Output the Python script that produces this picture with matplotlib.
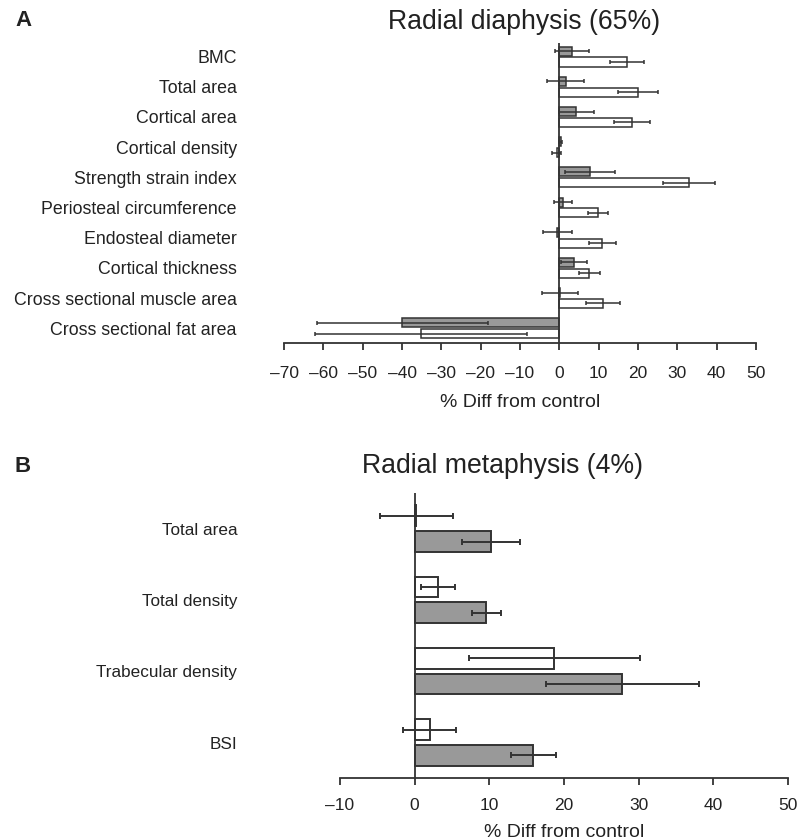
import numpy as np
import matplotlib
matplotlib.use('Agg')
import matplotlib.pyplot as plt

plt.rcParams['font.family'] = ['Liberation Sans', 'DejaVu Sans']

# panel A: radial diaphysis (65%)
cats_a = ['BMC', 'Total area', 'Cortical area', 'Cortical density',
          'Strength strain index', 'Periosteal circumference',
          'Endosteal diameter', 'Cortical thickness',
          'Cross sectional muscle area', 'Cross sectional fat area']
gray_a = [3.2, 1.6, 4.3, 0.3, 7.8, 1.0, -0.5, 3.7, 0.1, -39.9]
gray_a_err = [4.3, 4.7, 4.5, 0.5, 6.4, 2.3, 3.6, 3.3, 4.6, 21.8]
white_a = [17.3, 20.0, 18.4, -0.7, 33.0, 9.8, 10.9, 7.6, 11.1, -35.2]
white_a_err = [4.3, 5.2, 4.6, 1.1, 6.7, 2.6, 3.4, 2.7, 4.2, 26.9]
ticks_a = np.arange(-70, 51, 10)

# panel B: radial metaphysis (4%)
cats_b = ['Total area', 'Total density', 'Trabecular density', 'BSI']
white_b = [0.2, 3.1, 18.7, 2.0]
white_b_err = [4.9, 2.3, 11.45, 3.55]
gray_b = [10.2, 9.6, 27.8, 15.9]
gray_b_err = [3.85, 1.9, 10.25, 3.0]
ticks_b = np.arange(-10, 51, 10)

txt = '#222222'
edge = '#333333'
fill = '#999999'

fig = plt.figure(figsize=(8, 8.4), dpi=100)
axA = fig.add_axes([284/800, 1-343.3/840, (756-284)/800, (343.3-43)/840])
axB = fig.add_axes([340/800, 1-778.3/840, (788-340)/800, (778.3-493)/840])


def style(ax, ticks, lim, pad, ylsize, tpad, lpad):
    ax.set_xlim(lim)
    ax.set_xticks(ticks)
    ax.set_xticklabels([str(t).replace('-', '\u2013') for t in ticks])
    for s in ['left', 'right', 'top']:
        ax.spines[s].set_visible(False)
    ax.spines['bottom'].set_color(edge)
    ax.spines['bottom'].set_linewidth(1.3)
    ax.axvline(0, color=edge, lw=1.3, zorder=5)
    ax.tick_params(axis='x', direction='out', length=5, width=1.3, color=edge,
                   labelsize=12.5, labelcolor=txt, pad=tpad)
    ax.tick_params(axis='y', length=0, labelsize=ylsize, labelcolor=txt, pad=pad)
    ax.set_xlabel('% Diff from control', fontsize=14, color=txt, labelpad=lpad)


# --- A ---
ya = np.arange(len(cats_a))
axA.barh(ya - 0.18, gray_a, height=0.3, color=fill, edgecolor=edge, lw=1.1,
         xerr=gray_a_err, error_kw=dict(ecolor=edge, elinewidth=1.1, capsize=1.5, capthick=1.1))
axA.barh(ya + 0.18, white_a, height=0.3, color='white', edgecolor=edge, lw=1.1,
         xerr=white_a_err, error_kw=dict(ecolor=edge, elinewidth=1.1, capsize=1.5, capthick=1.1))
axA.set_yticks(ya)
axA.set_yticklabels(cats_a)
axA.set_ylim(9.5, -0.45)
style(axA, ticks_a, (-70, 50), 34, 12.8, 11, 10)

# --- B ---
yb = np.arange(len(cats_b))
axB.barh(yb - 0.18, white_b, height=0.29, color='white', edgecolor=edge, lw=1.4,
         xerr=white_b_err, error_kw=dict(ecolor=edge, elinewidth=1.4, capsize=2.5, capthick=1.4))
axB.barh(yb + 0.18, gray_b, height=0.29, color=fill, edgecolor=edge, lw=1.4,
         xerr=gray_b_err, error_kw=dict(ecolor=edge, elinewidth=1.4, capsize=2.5, capthick=1.4))
axB.set_yticks(yb)
axB.set_yticklabels(cats_b)
axB.set_ylim(3.5, -0.5)
style(axB, ticks_b, (-10, 50), 74, 12.3, 9, 8)

fig.text(15/800, 1-21/840, 'A', fontsize=16, fontweight='bold', color=txt, va='center')
fig.text(15/800, 1-466/840, 'B', fontsize=16, fontweight='bold', color=txt, va='center')
fig.text(524/800, 1-22/840, 'Radial diaphysis (65%)', fontsize=19.2, color=txt,
         ha='center', va='center')
fig.text(503/800, 1-466/840, 'Radial metaphysis (4%)', fontsize=19.2, color=txt,
         ha='center', va='center')

fig.savefig('out.png', dpi=100)
